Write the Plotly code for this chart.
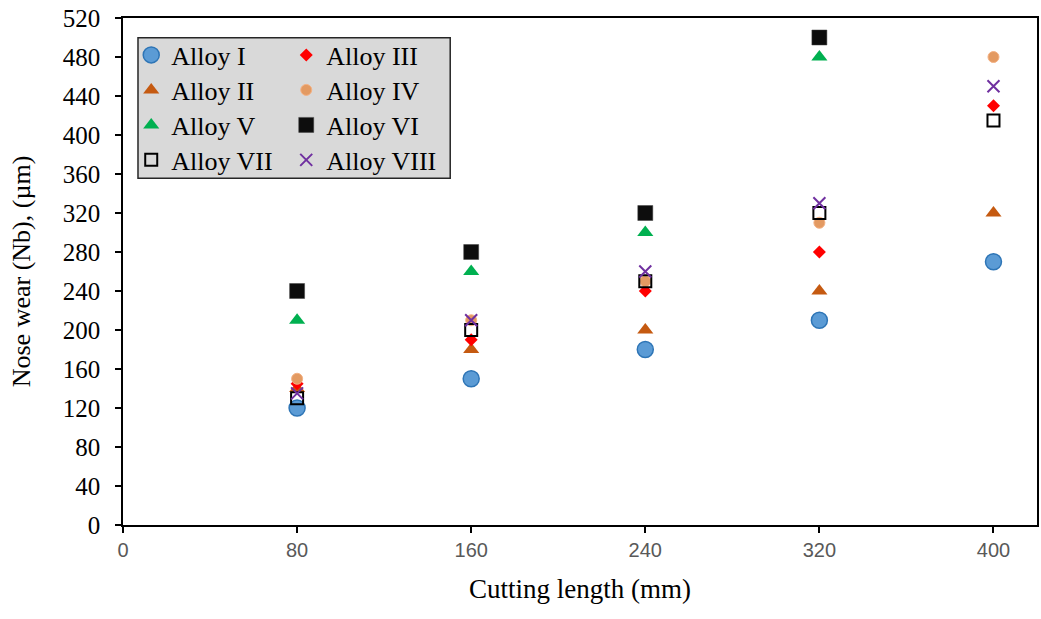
import plotly.graph_objects as go

cutting_length = [80, 160, 240, 320, 400]
alloy_1 = [120, 150, 180, 210, 270]
alloy_2 = [140, 180, 200, 240, 320]
alloy_3 = [145, 190, 240, 280, 430]
alloy_4 = [150, 210, 250, 310, 480]
alloy_5 = [210, 260, 300, 480, None]
alloy_6 = [240, 280, 320, 500, None]
alloy_7 = [130, 200, 250, 320, 415]
alloy_8 = [135, 210, 260, 330, 450]

x_ticks = [0, 80, 160, 240, 320, 400]
y_ticks = list(range(0, 521, 40))

SERIF = "Liberation Serif, Times New Roman, serif"
SANS = "Liberation Sans, Arial, sans-serif"

# name, values, marker style, legend row
series = [
    ("Alloy I", alloy_1, dict(symbol="circle", size=16, color="#5b9bd5", line=dict(color="#2e75b6", width=1.5)), "legend"),
    ("Alloy III", alloy_3, dict(symbol="diamond", size=10, color="#ff0000", line=dict(width=0)), "legend"),
    ("Alloy II", alloy_2, dict(symbol="triangle-up", size=14, color="#c55a11", line=dict(width=0)), "legend2"),
    ("Alloy IV", alloy_4, dict(symbol="circle", size=11, color="#e39a62", line=dict(color="#f4b183", width=1)), "legend2"),
    ("Alloy V", alloy_5, dict(symbol="triangle-up", size=14, color="#00b050", line=dict(width=0)), "legend3"),
    ("Alloy VI", alloy_6, dict(symbol="square", size=15, color="#0d0d0d", line=dict(color="#404040", width=0.5)), "legend3"),
    ("Alloy VII", alloy_7, dict(symbol="square-open", size=12, color="#000000", line=dict(color="#000000", width=2)), "legend4"),
    ("Alloy VIII", alloy_8, dict(symbol="x-thin-open", size=12, color="#7030a0", line=dict(color="#7030a0", width=2)), "legend4"),
]

draw_order = ["Alloy I", "Alloy II", "Alloy III", "Alloy IV", "Alloy V", "Alloy VI", "Alloy VII", "Alloy VIII"]
lookup = {s[0]: s for s in series}
legend_rank = {s[0]: i for i, s in enumerate(series)}

fig = go.Figure()
for name in draw_order:
    n, vals, marker, leg = lookup[name]
    fig.add_trace(go.Scatter(
        x=cutting_length, y=vals, mode="markers", name=n,
        marker=marker, legend=leg, legendrank=legend_rank[n],
    ))

legend_common = dict(
    bgcolor="rgba(0,0,0,0)", borderwidth=0,
    font=dict(family=SERIF, size=26, color="#000000"),
    orientation="h", xanchor="left", yanchor="middle",
    itemwidth=30, entrywidth=110, entrywidthmode="pixels",
    tracegroupgap=0, traceorder="normal",
)

row_y = [0.927, 0.858, 0.789, 0.720]
legend_x = 0.009

fig.update_layout(
    width=1041, height=619,
    margin=dict(l=123, r=4, t=18, b=94),
    paper_bgcolor="white", plot_bgcolor="white",
    showlegend=True,
    legend=dict(x=legend_x, y=row_y[0], **legend_common),
    legend2=dict(x=legend_x, y=row_y[1], **legend_common),
    legend3=dict(x=legend_x, y=row_y[2], **legend_common),
    legend4=dict(x=legend_x, y=row_y[3], **legend_common),
    xaxis=dict(
        range=[0, 420], tickvals=x_ticks, ticktext=[str(v) for v in x_ticks],
        showline=True, linecolor="#000000", linewidth=1.5, mirror=True,
        ticks="outside", ticklen=6, tickcolor="#000000", tickwidth=1.5,
        showgrid=False, zeroline=False, automargin=False,
        tickfont=dict(family=SANS, size=20, color="#595959"),
        title=dict(text="Cutting length (mm)", font=dict(family=SERIF, size=27, color="#000000"), standoff=19),
    ),
    yaxis=dict(
        range=[0, 520], tickvals=y_ticks,
        showline=True, linecolor="#000000", linewidth=1.5, mirror=True,
        ticks="outside", ticklen=6, tickcolor="#000000", tickwidth=1.5,
        showgrid=False, zeroline=False, automargin=False,
        ticklabelstandoff=10, ticklabeloverflow="allow",
        tickfont=dict(family=SERIF, size=25, color="#000000"),
        title=dict(text="Nose wear (Nb), (µm)", font=dict(family=SERIF, size=26, color="#000000"), standoff=25),
    ),
    shapes=[dict(
        type="rect", xref="paper", yref="paper",
        x0=0.0164, x1=0.358, y0=0.684, y1=0.961,
        fillcolor="#d9d9d9", line=dict(color="#262626", width=1.5), layer="below",
    )],
)

fig.write_html(
    "out.html",
    config={"displayModeBar": False},
    post_script="document.body.style.margin='0';document.body.style.overflow='hidden';",
)
